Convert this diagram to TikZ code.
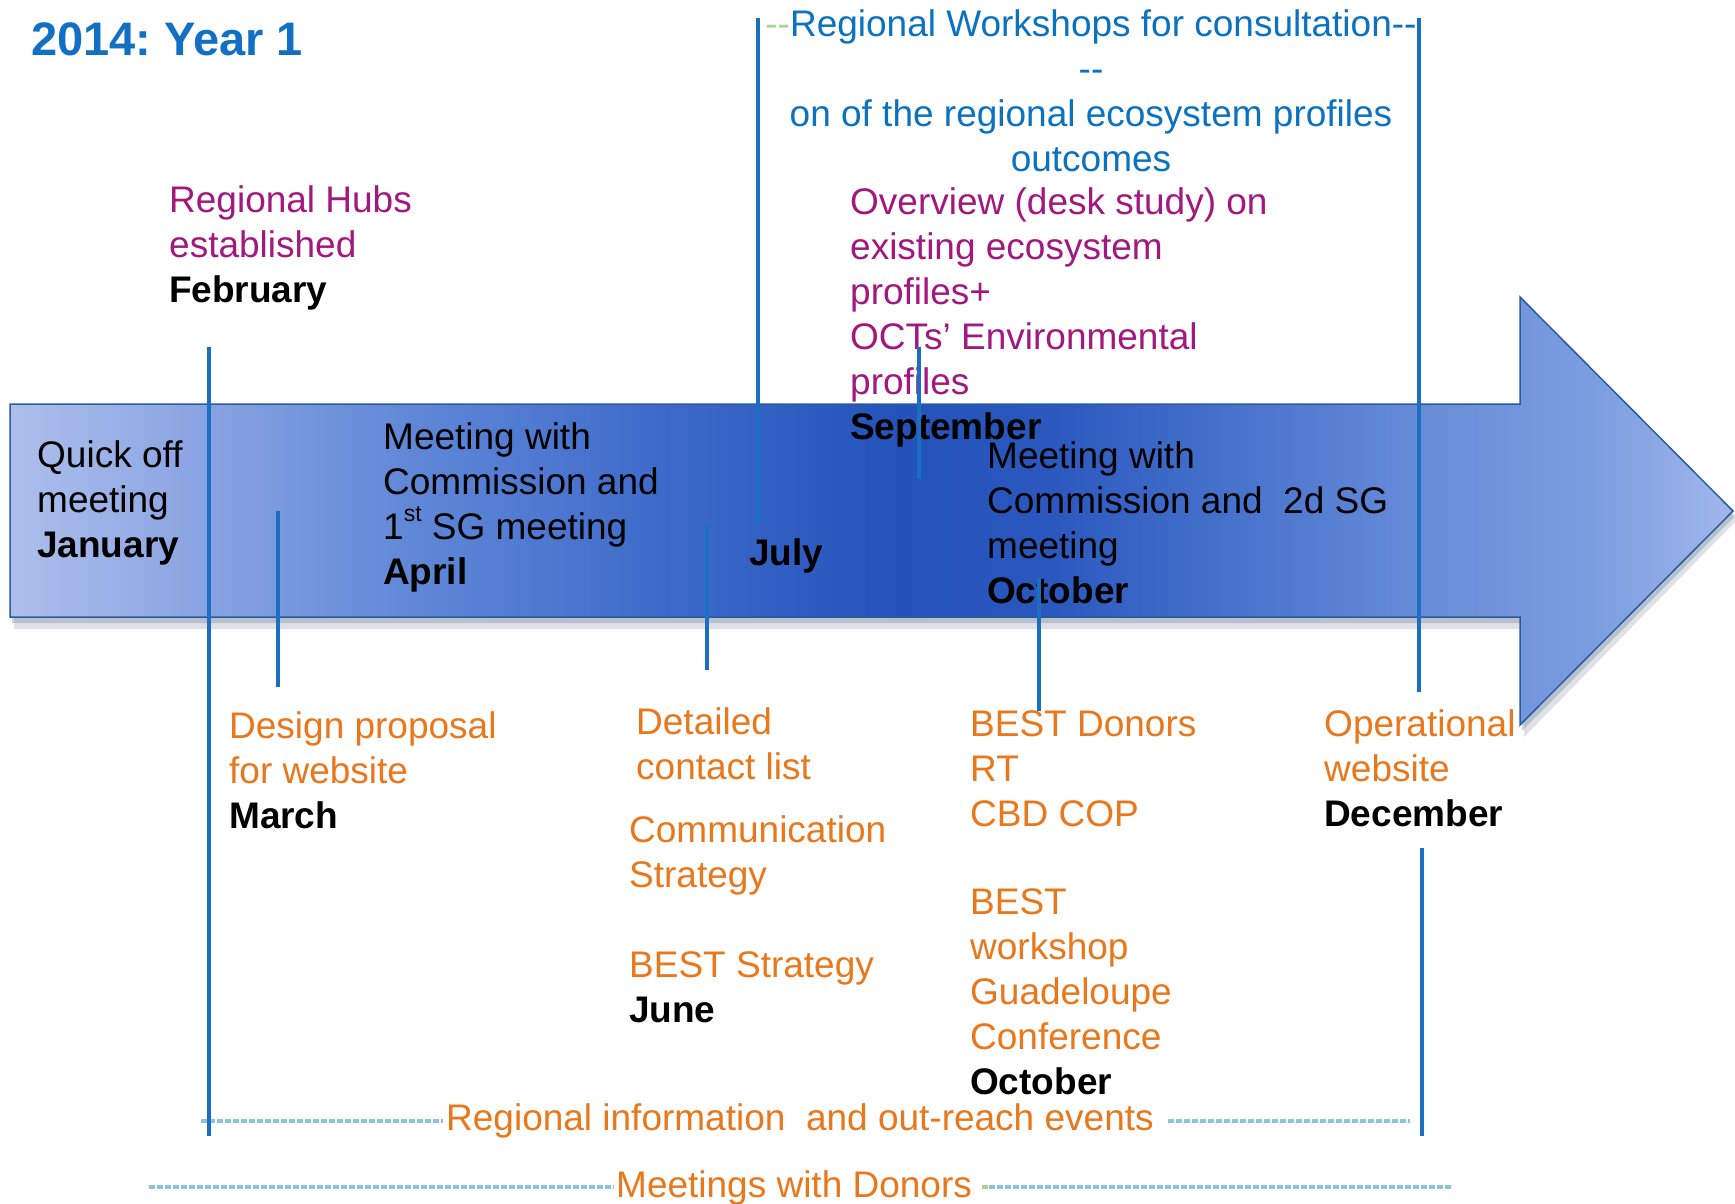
\documentclass[tikz,border=0pt]{standalone}
\usepackage{fontspec}
\setmainfont{Liberation Sans}
\frenchspacing
\definecolor{ttlblue}{HTML}{1170C4}
\definecolor{wsblue}{HTML}{0B72C2}
\definecolor{hubpurple}{HTML}{A1187E}
\definecolor{actorange}{HTML}{E9771B}
\definecolor{linblue}{HTML}{1B6FC3}
\definecolor{dashblue}{HTML}{88C5DC}
\definecolor{dashgreen}{HTML}{A6D591}
\definecolor{barborder}{HTML}{2A5C9C}
\definecolor{shadowcol}{HTML}{4A5E80}
\definecolor{c0}{HTML}{ADBFEC}
\definecolor{c1}{HTML}{8AA4E2}
\definecolor{c2}{HTML}{6289D8}
\definecolor{c3}{HTML}{3F6CCB}
\definecolor{c4}{HTML}{2352BA}
\definecolor{c5}{HTML}{2A58BE}
\definecolor{c6}{HTML}{4A75CE}
\definecolor{c7}{HTML}{6C8FDA}
\definecolor{c8}{HTML}{7C9DE0}
\definecolor{c9}{HTML}{A2B8EC}
\pgfdeclarehorizontalshading{barshade}{100bp}{color(0bp)=(c0); color(25bp)=(c0); color(30.5bp)=(c1); color(36.3bp)=(c2); color(43.6bp)=(c3); color(50.8bp)=(c4); color(55.2bp)=(c5); color(61bp)=(c6); color(66.8bp)=(c7); color(71.1bp)=(c8); color(75bp)=(c9); color(100bp)=(c9)}
\begin{document}
\begin{tikzpicture}[x=1pt,y=-1pt,
  txt/.style={inner sep=0pt, anchor=base west, align=left, font=\fontsize{37}{45}\selectfont},
  vline/.style={draw=linblue, line width=4.5pt},
  dashln/.style={draw=dashblue, line width=3.5pt, dash pattern=on 6pt off 2pt}]
\useasboundingbox[fill=white] (0,0) rectangle (1735,1203);
% shadow of the arrow
\fill[shadowcol, opacity=0.18] (14,414) -- (1524,414) -- (1524,307) -- (1737,520) -- (1524,737) -- (1524,629) -- (14,629) -- cycle;
\fill[shadowcol, opacity=0.25] (12,410) -- (1522,410) -- (1522,302) -- (1735,516) -- (1522,731) -- (1522,623) -- (12,623) -- cycle;
% the arrow
\path[shade, shading=barshade, draw=barborder, line width=1.5pt] (10,404) -- (1520,404) -- (1520,297) -- (1733,511) -- (1520,725) -- (1520,617) -- (10,617) -- cycle;
% title
\node[txt] (title) at (31,55) {\fontsize{47}{50}\selectfont\bfseries\color{ttlblue}2014: Year 1};
% above the bar (node anchors are at the baseline of the last line)
\node[txt, text=hubpurple] (hubs) at (169,302) {Regional Hubs\\established\\\textcolor{black}{\textbf{February}}};
\node[txt, anchor=base, align=center, text=wsblue] (ws) at (1091,171) {\textcolor{dashgreen}{\mbox{-}\mbox{-}}Regional Workshops for consultation\mbox{-}\mbox{-}\\\mbox{-}\mbox{-}\\on of the regional ecosystem profiles\\outcomes};
\node[txt, text=hubpurple] (ovw) at (850,439) {Overview (desk study) on\\existing ecosystem\\profiles+\\OCTs’ Environmental\\profiles\\\textcolor{black}{\textbf{September}}};
% in the bar
\node[txt] (kick) at (37,557) {Quick off\\meeting\\\textbf{January}};
\node[txt] (apr) at (383,584) {Meeting with\\Commission and\\1\raisebox{0.48em}{\fontsize{23}{23}\selectfont st} SG meeting\\\textbf{April}};
\node[txt] (jul) at (749,565) {\textbf{July}};
\node[txt] (oct1) at (987,603) {Meeting with\\Commission and\ \ 2d SG\\meeting\\\textbf{October}};
% below the bar
\node[txt, text=actorange] (mar) at (229,828) {Design proposal\\for website\\\textcolor{black}{\textbf{March}}};
\node[txt, text=actorange] (det) at (636,779) {Detailed\\contact list};
\node[txt, text=actorange] (comm) at (629,887) {Communication\\Strategy};
\node[txt, text=actorange] (bstr) at (629,1022) {BEST Strategy\\\textcolor{black}{\textbf{June}}};
\node[txt, text=actorange] (don) at (970,826) {BEST Donors\\RT\\CBD COP};
\node[txt, text=actorange] (bw) at (970,1094) {BEST\\workshop\\Guadeloupe\\Conference\\\textcolor{black}{\textbf{October}}};
\node[txt, text=actorange] (opw) at (1324,826) {Operational\\website\\\textcolor{black}{\textbf{December}}};
% bottom bands
\node[txt, text=actorange] (rie) at (446,1130) {Regional information\ \ and out-reach events};
\node[txt, text=actorange] (mwd) at (616,1197) {Meetings with Donors};
\coordinate (d1a) at (201,1121);
\coordinate (d1b) at (1410,1121);
\coordinate (d2a) at (149,1187);
\coordinate (d2b) at (1451,1187);
\draw[dashln] (d1a) -- ([xshift=-3pt]d1a -| rie.west);
\draw[dashln] ([xshift=14pt]d1b -| rie.east) -- (d1b);
\draw[dashln] (d2a) -- ([xshift=-2pt]d2a -| mwd.west);
\draw[dashln, draw=dashgreen] ([xshift=10pt]d2b -| mwd.east) -- ([xshift=16pt]d2b -| mwd.east);
\draw[dashln] ([xshift=17pt]d2b -| mwd.east) -- (d2b);
% vertical markers
\coordinate (febT) at (209,347); \coordinate (febB) at (209,1136);
\coordinate (marT) at (278,511); \coordinate (marB) at (278,687);
\coordinate (junT) at (707,525); \coordinate (junB) at (707,670);
\coordinate (julT) at (758,18);  \coordinate (julB) at (758,523);
\coordinate (sepT) at (919,347); \coordinate (sepB) at (919,479);
\coordinate (octT) at (1039,578); \coordinate (octB) at (1039,711);
\coordinate (decT) at (1419,18); \coordinate (decB) at (1419,692);
\coordinate (dec2T) at (1422,848); \coordinate (dec2B) at (1422,1136);
\draw[vline] (febT) -- (febB);
\draw[vline] (marT) -- (marB);
\draw[vline] (junT) -- (junB);
\draw[vline] (julT) -- (julB);
\draw[vline] (sepT) -- (sepB);
\draw[vline] (octT) -- (octB);
\draw[vline] (decT) -- (decB);
\draw[vline] (dec2T) -- (dec2B);
\end{tikzpicture}
\end{document}
